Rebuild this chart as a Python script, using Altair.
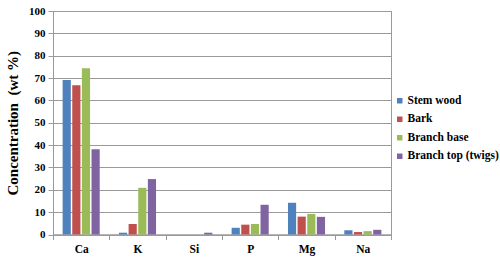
import altair as alt
import pandas as pd

elements = ["Ca", "K", "Si", "P", "Mg", "Na"]
series = ["Stem wood", "Bark", "Branch base", "Branch top (twigs)"]
colors = ["#4F81BD", "#C0504D", "#9BBB59", "#8064A2"]
stem_wood = [69.1, 0.8, 0.0, 3.0, 14.2, 1.9]
bark = [66.8, 4.7, 0.0, 4.4, 8.0, 1.1]
branch_base = [74.4, 20.9, 0.0, 4.7, 9.2, 1.5]
branch_top = [38.1, 24.8, 0.8, 13.3, 7.9, 2.1]

rows = []
for s, vals in zip(series, [stem_wood, bark, branch_base, branch_top]):
    for e, v in zip(elements, vals):
        rows.append({"element": e, "series": s, "value": v})
df = pd.DataFrame(rows)

FONT = "Liberation Serif"
GRID = "#9a9a9a"

chart = alt.Chart(df).mark_bar().encode(
    x=alt.X("element:N", sort=elements,
            scale=alt.Scale(paddingInner=0, paddingOuter=0),
            axis=alt.Axis(title=None, labelAngle=0, tickBand="extent", grid=False,
                          labelFont=FONT, labelFontWeight="bold", labelFontSize=11.5,
                          labelColor="#000", domainColor=GRID, tickColor=GRID,
                          tickSize=5, labelPadding=4)),
    xOffset=alt.XOffset("series:N", sort=series,
                        scale=alt.Scale(paddingInner=0.15, paddingOuter=1)),
    y=alt.Y("value:Q", scale=alt.Scale(domain=[0, 100], nice=False),
            axis=alt.Axis(title="Concentration\u00a0\u00a0(wt %)", values=list(range(0, 101, 10)),
                          labelFont=FONT, labelFontWeight="bold", labelFontSize=11,
                          labelColor="#000", titleFont=FONT, titleFontWeight="bold",
                          titleFontSize=15, titleColor="#000", titlePadding=8,
                          gridColor=GRID, domainColor=GRID, tickColor=GRID, tickSize=5,
                          labelPadding=3)),
    color=alt.Color("series:N", sort=series,
                    scale=alt.Scale(domain=series, range=colors),
                    legend=alt.Legend(title=None, orient="none", legendX=341, legendY=84,
                                      symbolType="square", symbolSize=30,
                                      labelFont=FONT, labelFontWeight="bold",
                                      labelFontSize=11.5, labelColor="#000",
                                      rowPadding=5.5, symbolStrokeWidth=0,
                                      labelOffset=2, labelLimit=200)),
).properties(
    width=338, height=223.5,
    autosize=alt.AutoSizeParams(type="none"),
    padding={"left": 53, "top": 11, "right": 109, "bottom": 25.5},
).configure(background="white", font=FONT).configure_view(stroke=GRID, strokeWidth=1)

chart.save("out.html", embed_options={"renderer": "svg", "actions": False})
